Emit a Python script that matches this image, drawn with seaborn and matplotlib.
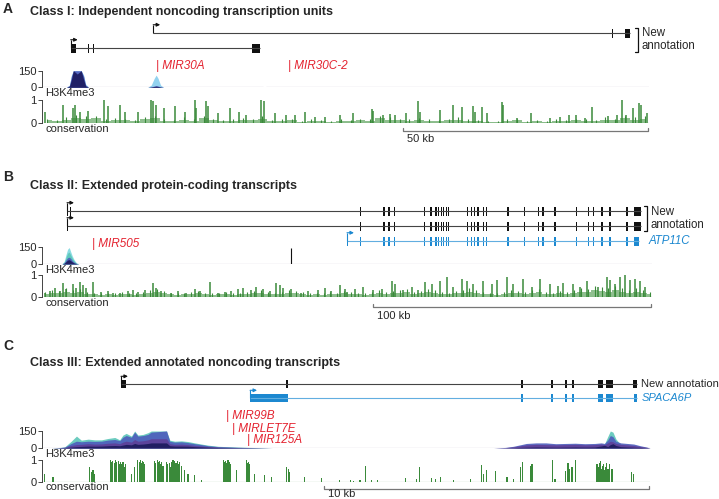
import numpy as np
import matplotlib
matplotlib.use("Agg")
import matplotlib.pyplot as plt
import matplotlib.transforms as mtransforms
import seaborn as sns

sns.set_style("white")
plt.rcParams['font.family'] = ['Liberation Sans', 'DejaVu Sans']

# ---------------- data (positions in kb from the left edge of each locus) ----------------
# Panel A
A_span = 123.9
A_tx1 = (22.7, 120.1)
A_tx1_exons = [(116.25, 116.55), (119.0, 120.1)]
A_tx2 = (5.86, 44.4)
A_tx2_exons = [(5.86, 6.94), (9.35, 9.65), (10.35, 10.65), (42.9, 44.4)]
A_mir = ['MIR30A', 'MIR30C-2']
A_mir_pos = [23.3, 50.2]
A_h3_x = [5.0, 5.6, 6.0, 6.4, 7.2, 8.0, 8.5, 8.9, 9.5, 21.6, 22.3, 22.9, 23.3, 23.7, 24.2, 24.8]
A_h3_light = [0, 20, 110, 150, 150, 150, 110, 30, 0, 0, 20, 80, 110, 80, 20, 0]
A_h3_blue = [0, 15, 100, 150, 150, 150, 100, 20, 0, 0, 5, 10, 15, 10, 5, 0]
A_h3_navy = [0, 10, 70, 150, 120, 150, 70, 12, 0, 0, 3, 8, 10, 8, 3, 0]
A_h3_base = [(0, 45.1), (45.7, 123.9)]
A_cons_pos = [0.7, 4.3, 6.3, 6.7, 7.7, 9.4, 12.6, 13.5, 15.9, 16.9, 19.6, 22.3, 22.7, 23.3, 25.0,
              27.1, 29.1, 31.2, 31.5, 33.5, 33.9, 35.9, 38.3, 40.3, 41.7, 44.8, 45.3, 47.5, 49.9,
              51.6, 53.6, 55.7, 57.7, 60.8, 63.5, 67.3, 67.6, 69.7, 71.0, 72.0, 74.2, 76.8, 77.1,
              81.2, 83.9, 85.7, 88.0, 88.4, 89.9, 90.8, 93.8, 94.1, 96.9, 99.8, 103.7, 105.7,
              107.6, 109.1, 110.8, 112.3, 115.6, 117.3, 118.4, 119.3, 120.7, 121.8, 122.2, 123.4]
A_cons_val = [0.5, 0.8, 0.65, 0.8, 0.5, 0.53, 1.0, 0.73, 0.8, 0.5, 0.5, 1.0, 0.95, 0.8, 0.65,
              0.73, 0.5, 1.0, 0.65, 0.95, 0.73, 0.42, 0.65, 0.5, 0.35, 1.0, 0.95, 0.42, 0.35,
              0.35, 0.5, 0.27, 0.27, 0.35, 0.42, 0.6, 0.53, 0.35, 0.38, 0.35, 0.42, 0.95, 0.5,
              0.58, 0.77, 0.68, 0.73, 0.5, 0.68, 0.42, 0.9, 0.8, 0.2, 0.45, 0.23, 0.27,
              0.35, 0.35, 0.23, 0.68, 0.32, 0.35, 1.0, 0.35, 0.65, 0.88, 0.8, 0.42]
A_cons_bg = [0.12, 0.08, 0.15, 0.22, 0.18, 0.2, 0.1, 0.14, 0.12, 0.08, 0.16, 0.2, 0.1, 0.08, 0.15,
             0.1, 0.2, 0.12, 0.08, 0.1, 0.14, 0.12, 0.18, 0.08, 0.1, 0.12, 0.06, 0.1, 0.08, 0.05,
             0.1, 0.07, 0.12, 0.1, 0.2, 0.15, 0.12, 0.1, 0.14, 0.1, 0.08, 0.12, 0.15, 0.1, 0.08,
             0.06, 0.05, 0.1, 0.12, 0.05, 0.08, 0.06, 0.1, 0.08, 0.12, 0.1, 0.08, 0.15, 0.12, 0.2,
             0.15, 0.18]
A_scale = (73.7, 50, '50 kb')

# Panel B
B_span = 219.4
B_shared_exons = [114.4, 122.7, 124.5, 126.6, 137.4, 139.6, 141.4, 142.4, 143.5, 144.2, 145.3,
                  146.0, 152.9, 154.3, 155.4, 156.5, 158.6, 159.7, 167.3, 173.4, 178.4, 179.9,
                  184.2, 192.1, 196.4, 198.2, 201.1, 204.0, 210.1]
B_last_exon = (212.9, 215.5)
B_tx1 = (9.0, 215.5)
B_tx1_first = [9.0, 9.9]
B_tx2 = (9.0, 215.5)
B_tx2_first = [9.0]
B_ref = (109.7, 214.9)
B_ref_first = [109.7]
B_mir = ['MIR505']
B_mir_pos = [18.0]
B_h3_x = [7.2, 8.0, 8.6, 9.2, 9.8, 10.3, 10.9, 11.6, 12.4, 13.2]
B_h3_cyan = [0, 25, 80, 130, 145, 110, 70, 35, 10, 0]
B_h3_teal = [0, 15, 55, 95, 105, 80, 50, 25, 6, 0]
B_h3_blue = [0, 10, 35, 55, 60, 50, 30, 15, 4, 0]
B_h3_navy = [0, 6, 20, 35, 38, 30, 18, 8, 2, 0]
B_h3_spike = (89.7, 145)
B_h3_base = [(0, 219.4)]
B_cons_pos = [0.96, 2.76, 4.56, 6.4, 7.55, 8.75, 11.15, 12.35, 13.55, 14.75, 15.95, 18.35, 21.35,
              23.75, 25.55, 27.95, 30.95, 32.75, 34.55, 36.95, 39.9, 41.1, 42.9, 46.5, 48.9, 51.9,
              54.9, 56.7, 60.3, 63.3, 65.7, 68.1, 70.5, 72.3, 75.3, 77.1, 79.5, 81.9, 84.3, 85.5,
              86.7, 89.7, 93.3, 95.7, 99.3, 101.7, 104.1, 107.1, 108.9, 109.6, 112.6, 115.6,
              119.2, 122.2, 125.8, 127.0, 130.0, 133.0, 135.4, 137.8, 140.2, 143.2, 145.6, 148.0,
              151.0, 152.8, 155.1, 158.7, 161.8, 163.6, 167.2, 169.5, 173.1, 176.2, 179.1, 182.7,
              185.7, 187.5, 191.1, 193.5, 195.9, 200.1, 203.1, 204.3, 206.1, 207.9, 209.7, 211.5,
              213.3, 215.1, 216.9]
B_cons_val = [0.19, 0.29, 0.43, 0.29, 0.63, 0.36, 0.59, 0.43, 0.69, 0.56, 0.43, 0.69, 0.23,
              0.29, 0.19, 0.19, 0.29, 0.32, 0.23, 0.32, 0.63, 0.43, 0.29, 0.16, 0.29, 0.19,
              0.36, 0.29, 0.69, 0.16, 0.23, 0.29, 0.36, 0.43, 0.32, 0.45, 0.36, 0.29, 0.63, 0.56,
              0.43, 0.36, 0.16, 0.29, 0.32, 0.43, 0.29, 0.56, 0.36, 0.24, 0.37, 0.47,
              0.31, 0.37, 0.71, 0.57, 0.33, 0.44, 0.31, 0.67, 0.57, 0.73, 0.93, 0.44,
              0.84, 0.71, 0.57, 0.71, 0.57, 0.77, 0.93, 0.57, 0.81, 0.44, 0.8, 0.57,
              0.51, 0.64, 0.57, 0.44, 0.71, 0.44, 0.93, 0.77, 0.57, 0.91, 1.0, 0.77,
              0.84, 0.71, 0.44]
B_cons_bg = [0.15, 0.2, 0.18, 0.25, 0.2, 0.22, 0.15, 0.12, 0.1, 0.12, 0.1, 0.15, 0.12, 0.1, 0.15,
             0.2, 0.22, 0.18, 0.12, 0.1, 0.12, 0.15, 0.18, 0.12, 0.1, 0.12, 0.15, 0.1, 0.12, 0.15,
             0.18, 0.2, 0.15, 0.12, 0.14, 0.2, 0.18, 0.15, 0.1, 0.12, 0.1, 0.14, 0.12, 0.16, 0.15,
             0.12, 0.1, 0.15, 0.2, 0.15, 0.18, 0.2, 0.22, 0.15, 0.18, 0.22, 0.2, 0.15, 0.12, 0.18,
             0.2, 0.25, 0.2, 0.15, 0.12, 0.1, 0.15, 0.2, 0.18, 0.15, 0.2, 0.22, 0.15, 0.12, 0.18,
             0.15, 0.2, 0.25, 0.22, 0.3, 0.28, 0.25, 0.3, 0.25, 0.2, 0.25, 0.2, 0.15]
B_scale = (119.1, 100, '100 kb')

# Panel C
C_span = 18.7
C_tx = (2.43, 18.3)
C_tx_exons = [(2.43, 2.58), (7.5, 7.56), (14.72, 14.78), (15.67, 15.73), (16.08, 16.14),
              (16.29, 16.37), (17.1, 17.24), (17.35, 17.55), (18.18, 18.3)]
C_ref = (6.4, 18.3)
C_ref_exons = [(6.4, 7.58), (14.72, 14.78), (15.67, 15.73), (16.08, 16.14),
               (16.29, 16.37), (17.1, 17.24), (17.35, 17.55), (18.2, 18.3)]
C_mir = ['MIR99B', 'MIRLET7E', 'MIR125A']
C_mir_pos = [5.66, 5.85, 6.31]
C_h3_x = [0.3, 0.5, 0.7, 0.9, 1.06, 1.21, 1.42, 1.62, 1.83, 2.03, 2.24, 2.39, 2.49, 2.59, 2.75,
          2.85, 2.95, 3.11, 3.26, 3.36, 3.83, 3.93, 4.08, 4.29, 4.49, 4.70, 4.9, 5.11, 5.42,
          6.03, 7.06,
          13.9, 14.25, 14.5, 14.9, 15.2, 15.5, 15.8, 16.1, 16.4, 16.7, 17.0, 17.2, 17.3, 17.4,
          17.48, 17.56, 17.65, 17.8, 18.0, 18.2, 18.4, 18.6, 18.7]
C_h3_teal = [0, 3, 10, 60, 105, 69, 78, 72, 72, 84, 93, 72, 114, 129, 105, 150, 114, 120, 135,
             150, 150, 69, 60, 63, 57, 45, 35, 25, 15, 8, 0,
             0, 0, 0, 0, 0, 0, 0, 0, 0, 0, 0, 20, 35, 100, 150, 140, 80, 30, 10, 0, 0, 0, 0]
C_h3_blue = [0, 2, 8, 40, 60, 55, 60, 58, 60, 70, 75, 65, 95, 110, 95, 140, 105, 110, 120,
             140, 150, 60, 52, 55, 48, 38, 30, 20, 12, 6, 0,
             0, 5, 15, 40, 45, 45, 38, 40, 42, 38, 40, 45, 40, 70, 110, 100, 60, 45, 40, 35, 20, 8, 0]
C_h3_purple = [0, 2, 5, 22, 30, 32, 38, 34, 36, 42, 45, 38, 52, 60, 52, 75, 60, 64, 72,
               82, 82, 38, 32, 34, 30, 22, 18, 13, 7, 4, 0,
               0, 3, 10, 28, 32, 30, 28, 30, 32, 28, 30, 35, 30, 45, 60, 55, 40, 32, 28, 22, 13, 5, 0]
C_h3_navy = [0, 1, 3, 8, 12, 14, 17, 16, 17, 20, 22, 20, 26, 32, 28, 40, 32, 35, 40,
             45, 45, 20, 17, 17, 16, 12, 10, 7, 4, 2, 0,
             0, 1, 3, 7, 9, 8, 7, 8, 9, 8, 9, 18, 24, 12, 30, 38, 22, 12, 9, 7, 5, 2, 0]
C_h3_base = [(0, 18.7)]
C_cons_pos = [0.08, 0.34, 1.47, 1.52, 1.57, 1.62, 2.11, 2.14, 2.18, 2.22, 2.26, 2.30, 2.34, 2.38,
              2.42, 2.46, 2.49, 2.53, 2.56, 2.75, 2.85, 2.95, 2.99, 3.03, 3.07, 3.10, 3.13, 3.16,
              3.47, 3.50, 3.54, 3.58, 3.61, 3.64, 3.67, 3.72, 3.83, 3.87, 3.91, 3.95, 3.98, 4.03,
              4.08, 4.12, 4.16, 4.20, 4.24, 4.29, 4.39, 4.49, 4.70, 4.90, 5.57, 5.60, 5.64, 5.68,
              5.72, 5.76, 5.80, 5.98, 6.29, 6.32, 6.34, 6.39, 6.54, 6.85, 7.06, 7.52, 7.57, 7.62,
              8.08, 8.6, 9.16, 9.48, 9.58, 9.78, 9.95, 10.14, 10.32, 11.19, 11.53, 11.6, 11.99,
              12.11, 12.25, 12.66, 13.17, 13.53, 13.58, 13.66, 13.94, 14.3, 14.5, 14.71, 14.77,
              15.02, 15.07, 15.7, 15.78, 16.09, 16.18, 16.23, 16.3, 16.4, 17.07, 17.1, 17.14,
              17.17, 17.2, 17.24, 17.27, 17.3, 17.34, 17.37, 17.41, 17.46, 17.53, 18.14, 18.19]
C_cons_val = [0.38, 0.24, 0.68, 0.45, 0.53, 0.38, 1.0, 0.9, 0.97, 0.85, 1.0, 0.9, 0.97, 0.8,
              0.9, 0.82, 0.9, 0.7, 0.82, 0.38, 0.68, 1.0, 0.9, 1.0, 0.85, 0.97, 0.9, 0.82,
              0.97, 0.85, 1.0, 0.9, 0.97, 0.8, 0.9, 0.75, 0.9, 0.8, 0.85, 0.7, 0.9, 1.0,
              0.97, 0.85, 0.97, 0.8, 0.9, 0.75, 0.53, 0.38, 0.31, 0.09, 1.0, 0.9, 0.97, 0.85,
              1.0, 0.9, 0.82, 0.53, 1.0, 0.85, 0.9, 0.82, 0.38, 0.31, 0.24, 0.68, 0.6, 0.45,
              0.24, 0.16, 0.09, 0.07, 0.04, 0.07, 0.74, 0.1, 0.07, 0.19, 0.15, 0.69, 0.19,
              0.15, 0.22, 0.07, 0.15, 0.76, 0.37, 0.56, 0.51, 0.22, 0.15, 0.66, 0.91,
              0.74, 0.81, 1.0, 0.15, 0.51, 0.88, 0.6, 0.66, 0.98, 0.81, 0.7, 0.88,
              0.95, 0.6, 0.75, 0.81, 0.55, 0.7, 0.88, 0.6, 0.81, 0.6, 0.44, 0.37]
C_scale = (8.66, 10, '10 kb')

# ---------------- style ----------------
BLACK = '#111111'
BLUE = '#1c88d0'
BLUE_LINE = '#62aee0'
RED = '#e42330'
GREEN = '#3a8a3a'
LIGHT_GREEN = '#6aaa6a'
H3_COLORS = {'light': '#86cdee', 'cyan': '#7fd9e0', 'teal': '#5cc6b8',
             'blue': '#4d5cbc', 'purple': '#5e3f98', 'navy': '#1b1a5c'}
BASE_COLOR = '#6b4a86'
FS = 8

W, H = 719, 499
fig = plt.figure(figsize=(W / 100, H / 100), dpi=100)


def add_ax(x0, y_top, x1, y_bot):
    ax = fig.add_axes([x0 / W, 1 - y_bot / H, (x1 - x0) / W, (y_bot - y_top) / H])
    ax.patch.set_visible(False)
    return ax


def tss_arrow(ax, x, row, color):
    top = row - 0.55
    ax.plot([x, x], [row, top], color=color, lw=0.8, solid_capstyle='butt')
    head = mtransforms.offset_copy(ax.transData, fig=fig, x=5, y=0, units='points')
    ax.annotate('', xy=(x, top), xycoords=head, xytext=(x, top), textcoords='data',
                arrowprops=dict(arrowstyle='-|>', lw=0.8, color=color, mutation_scale=5,
                                shrinkA=0, shrinkB=0))


def gene(ax, row, span, exons, color, line_color, eh=0.6):
    ax.plot(span, [row, row], color=line_color, lw=0.8, solid_capstyle='butt')
    ax.broken_barh([(s, e - s) for s, e in exons], (row - eh / 2, eh), color=color, lw=0)
    tss_arrow(ax, span[0], row, color)


def bracket(ax, x, r0, r1, dx):
    ax.plot([x - dx, x, x, x - dx], [r0, r0, r1, r1], color=BLACK, lw=0.9, clip_on=False)


def h3_axis(ax, span, layers, x, base):
    for name, vals in layers:
        ax.fill_between(x, vals, color=H3_COLORS[name], lw=0, alpha=0.9)
    for s, e in base:
        ax.plot([s, e], [1.5, 1.5], color=BASE_COLOR, lw=0.8, alpha=0.8)
    ax.set_xlim(0, span)
    ax.set_ylim(0, 150)
    ax.set_yticks([0, 150])
    ax.set_xticks([])
    ax.tick_params(axis='y', length=3, width=0.6, pad=1, labelsize=FS, left=True)
    sns.despine(ax=ax, top=True, right=True, bottom=True)
    ax.spines['left'].set_linewidth(0.6)
    ax.text(0.005, -0.36, 'H3K4me3', transform=ax.transAxes, fontsize=FS, va='center')


def cons_axis(ax, span, pos, val, bg, bg_step, scale, bar_y, text_y, bar_w=None):
    if bg:
        bx = (np.arange(len(bg)) + 0.5) * bg_step
        ax.fill_between(bx, bg, step='mid', color=LIGHT_GREEN, lw=0, alpha=0.75)
        ax.vlines(bx, 0, np.array(bg) * 1.6, color=GREEN, lw=0.8)
    if bar_w:
        ax.bar(pos, val, width=bar_w, color=GREEN, lw=0)
    else:
        ax.vlines(pos, 0, val, color=GREEN, lw=1.1)
    ax.axhline(0, color=GREEN, lw=0.8)
    ax.set_xlim(0, span)
    ax.set_ylim(0, 1)
    ax.set_yticks([0, 1])
    ax.set_xticks([])
    ax.tick_params(axis='y', length=3, width=0.6, pad=1, labelsize=FS, left=True)
    sns.despine(ax=ax, top=True, right=True, bottom=True)
    ax.spines['left'].set_linewidth(0.6)
    ax.text(0.005, -0.25, 'conservation', transform=ax.transAxes, fontsize=FS, va='center')
    tr = ax.get_xaxis_transform()
    s0, length, label = scale
    ax.plot([s0, s0, s0 + length, s0 + length], [bar_y + 0.15, bar_y, bar_y, bar_y + 0.15],
            color='#777777', lw=0.9, transform=tr, clip_on=False)
    ax.text(s0 + span * 0.007, text_y, label, transform=tr, fontsize=FS, va='center')


def mir_labels(ax, names, pos, ys):
    tr = ax.get_xaxis_transform()
    for n, p, y in zip(names, pos, ys):
        ax.text(p, y, '| ' + n, transform=tr, color=RED, fontsize=FS + 0.5, style='italic',
                va='center', ha='left')


# panel letters and titles
for letter, ly, title, ty in [('A', 9, 'Class I: Independent noncoding transcription units', 12),
                              ('B', 177, 'Class II: Extended protein-coding transcripts', 186),
                              ('C', 346, 'Class III: Extended annotated noncoding transcripts', 363)]:
    fig.text(3 / W, 1 - ly / H, letter, fontsize=10, fontweight='bold', va='center')
    fig.text(30 / W, 1 - ty / H, title, fontsize=9, fontweight='bold', va='center')

# ---------- panel A ----------
ga = add_ax(42, 22.5, 649, 58.5)
ga.set_xlim(0, A_span)
ga.set_ylim(1.7, -0.7)
ga.axis('off')
gene(ga, 0, A_tx1, A_tx1_exons, BLACK, '#444444')
gene(ga, 1, A_tx2, A_tx2_exons, BLACK, '#444444')
bracket(ga, 121.6, -0.35, 1.25, 0.6)
ga.text(122.4, 0.45, 'New\nannotation', fontsize=FS + 0.3, va='center', ha='left',
        linespacing=1.15, clip_on=False)

ha = add_ax(42, 70.7, 649, 87.3)
h3_axis(ha, A_span, [('light', A_h3_light), ('blue', A_h3_blue), ('navy', A_h3_navy)],
        A_h3_x, A_h3_base)
mir_labels(ha, A_mir, A_mir_pos, [1.28, 1.28])

ca = add_ax(42, 100, 649, 123)
cons_axis(ca, A_span, A_cons_pos, A_cons_val, A_cons_bg, 2.0, A_scale, -0.35, -0.7)

# ---------- panel B ----------
gb = add_ax(42, 200.5, 652, 251.5)
gb.set_xlim(0, B_span)
gb.set_ylim(2.7, -0.7)
gb.axis('off')
ew = 0.5
shared = [(p, p + ew) for p in B_shared_exons]
gene(gb, 0, B_tx1, [(p, p + ew) for p in B_tx1_first] + shared + [B_last_exon], BLACK, '#444444')
gene(gb, 1, B_tx2, [(p, p + ew) for p in B_tx2_first] + shared + [B_last_exon], BLACK, '#444444')
gene(gb, 2, B_ref, [(p, p + ew) for p in B_ref_first] + shared + [(B_last_exon[0], B_ref[1])],
     BLUE, BLUE_LINE)
bracket(gb, 217.5, -0.35, 1.35, 0.9)
gb.text(218.9, 0.5, 'New\nannotation', fontsize=FS + 0.3, va='center', ha='left',
        linespacing=1.15, clip_on=False)
gb.text(218.0, 2, 'ATP11C', fontsize=FS + 0.3, va='center', ha='left', color=BLUE,
        style='italic', clip_on=False)

hb = add_ax(42, 247, 652, 264)
h3_axis(hb, B_span, [('cyan', B_h3_cyan), ('teal', B_h3_teal), ('blue', B_h3_blue),
                     ('navy', B_h3_navy)], B_h3_x, B_h3_base)
hb.vlines([B_h3_spike[0]], 0, [B_h3_spike[1]], color=BLACK, lw=0.8)
mir_labels(hb, B_mir, B_mir_pos, [1.18])

cb = add_ax(42, 275, 652, 297)
cons_axis(cb, B_span, B_cons_pos, B_cons_val, B_cons_bg, 2.5, B_scale, -0.45, -0.86)

# ---------- panel C ----------
gc = add_ax(42, 374.2, 650, 407.8)
gc.set_xlim(0, C_span)
gc.set_ylim(1.7, -0.7)
gc.axis('off')
gene(gc, 0, C_tx, C_tx_exons, BLACK, '#444444')
gene(gc, 1, C_ref, C_ref_exons, BLUE, BLUE_LINE)
gc.text(18.42, 0, 'New annotation', fontsize=FS, va='center', ha='left', clip_on=False)
gc.text(18.45, 1, 'SPACA6P', fontsize=FS, va='center', ha='left', color=BLUE,
        style='italic', clip_on=False)

hc = add_ax(42, 431, 650, 448)
h3_axis(hc, C_span, [('teal', C_h3_teal), ('blue', C_h3_blue), ('purple', C_h3_purple),
                     ('navy', C_h3_navy)], C_h3_x, C_h3_base)
mir_labels(hc, C_mir, C_mir_pos, [1.88, 1.14, 0.47])

cc = add_ax(42, 460, 650, 482)
cons_axis(cc, C_span, C_cons_pos, C_cons_val, None, None, C_scale, -0.32, -0.56, bar_w=0.035)

fig.savefig('out.png', dpi=100)
